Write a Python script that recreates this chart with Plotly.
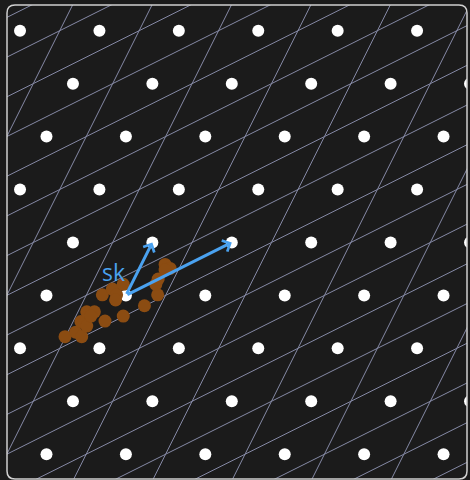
import numpy as np
import plotly.graph_objects as go

# Lattice description (data units)
lattice_a = (3.0, 0.0)          # horizontal lattice translation
lattice_b = (1.0, 2.0)          # oblique lattice translation
vec_u = (1.0, 2.0)              # first drawn basis vector
vec_v = (4.0, 2.0)              # second drawn basis vector
grid_offset = (1.5, 0.0)        # grid of cells spanned by u and v, shifted so sites sit at cell centres

# Scattered particle positions around the origin
cluster_x = [-2.30, -1.90, -1.67, -1.70, -1.48, -1.48, -1.19, -1.32, -0.79, -0.10, -0.89,
             -0.51, -0.35, -0.39, -0.10, 0.70, 1.20, 1.13, 1.22, 1.48, 1.67, 1.48]
cluster_y = [-1.56, -1.39, -1.56, -0.99, -1.16, -0.62, -0.62, -0.78, -0.97, -0.78, 0.02,
             0.24, 0.02, -0.17, 0.42, -0.39, 0.02, 0.42, 0.62, 1.17, 1.02, 0.96]

vector_label = "sk"

x_range = [-4.492, 12.886]
y_range = [-6.936, 10.971]

BG = "#1b1b1b"
GRID = "#868aa6"
BLUE = "#4aa2f0"
BROWN = "#8b4c12"

# Lattice sites inside the view
site_x, site_y = [], []
for i in range(-12, 13):
    for j in range(-8, 9):
        px = i * lattice_a[0] + j * lattice_b[0]
        py = i * lattice_a[1] + j * lattice_b[1]
        if x_range[0] - 1 <= px <= x_range[1] + 1 and y_range[0] - 1 <= py <= y_range[1] + 1:
            site_x.append(px)
            site_y.append(py)

# Cell grid lines along u and along v
gx, gy = [], []
for step, direction in ((vec_v, vec_u), (vec_u, vec_v)):
    for k in range(-12, 13):
        ox = grid_offset[0] + k * step[0]
        oy = grid_offset[1] + k * step[1]
        gx += [ox - 40 * direction[0], ox + 40 * direction[0], None]
        gy += [oy - 40 * direction[1], oy + 40 * direction[1], None]

fig = go.Figure()
fig.add_trace(go.Scatter(x=gx, y=gy, mode="lines",
                         line=dict(color=GRID, width=1), hoverinfo="skip"))
fig.add_trace(go.Scatter(x=site_x, y=site_y, mode="markers",
                         marker=dict(color="#ffffff", size=12, line=dict(width=0))))
fig.add_trace(go.Scatter(x=cluster_x, y=cluster_y, mode="markers",
                         marker=dict(color=BROWN, size=13, line=dict(width=0))))

for vec in (vec_u, vec_v):
    fig.add_annotation(x=vec[0], y=vec[1], ax=0, ay=0, xref="x", yref="y",
                       axref="x", ayref="y", text="", showarrow=True,
                       arrowhead=4, arrowwidth=3, arrowsize=0.8,
                       arrowcolor=BLUE, standoff=0, startstandoff=0)

fig.add_annotation(x=-0.45, y=0.88, xref="x", yref="y", text=vector_label,
                   showarrow=False, font=dict(family="Open Sans", size=23, color=BLUE),
                   xanchor="center", yanchor="middle")

# Rounded frame around the plot area
pw, ph = 460.0, 474.0
rx, ry = 8.0 / pw, 8.0 / ph
frame = (f"M {rx},0 L {1-rx},0 Q 1,0 1,{ry} L 1,{1-ry} Q 1,1 {1-rx},1 "
         f"L {rx},1 Q 0,1 0,{1-ry} L 0,{ry} Q 0,0 {rx},0 Z")
fig.add_shape(type="path", path=frame, xref="paper", yref="paper",
              line=dict(color="#d0d0d0", width=1.5), layer="above")

fig.update_layout(
    width=470, height=480,
    margin=dict(l=7, r=3, t=5, b=1),
    paper_bgcolor=BG, plot_bgcolor=BG,
    showlegend=False,
    xaxis=dict(range=x_range, visible=False, showgrid=False, zeroline=False),
    yaxis=dict(range=y_range, visible=False, showgrid=False, zeroline=False),
)

fig.write_html("out.html")
